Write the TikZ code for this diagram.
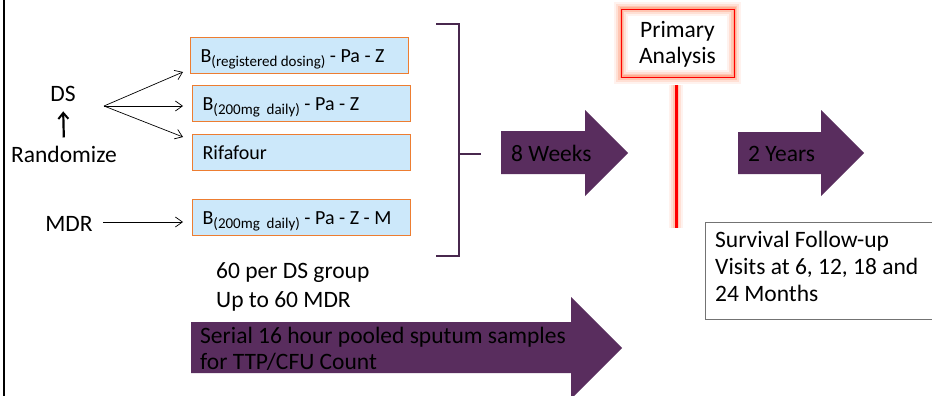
\documentclass[tikz,border=0pt]{standalone}
\usepackage{fontspec}
\setmainfont{Carlito}
\usetikzlibrary{arrows.meta}
\definecolor{plum}{RGB}{89,45,94}
\definecolor{brk}{RGB}{72,40,78}
\definecolor{boxfill}{RGB}{204,232,250}
\definecolor{boxline}{RGB}{237,125,49}
\definecolor{glow}{RGB}{255,150,115}
\newcommand{\sbs}[1]{\raisebox{-4pt}{\fontsize{15}{15}\selectfont #1}}
\begin{document}
\begin{tikzpicture}[x=1pt,y=-1pt,
  font=\fontsize{23.5}{27}\selectfont,
  regbox/.style={draw=boxline, line width=1.2pt, fill=boxfill, anchor=north west,
    font=\fontsize{20}{24}\selectfont,
    minimum width=218pt, minimum height=36pt, text width=198pt, align=flush left,
    text height=13pt, text depth=0pt, inner xsep=10pt, inner ysep=0pt},
  thinarrow/.style={draw=black, line width=0.7pt, -{Straight Barb[length=7pt,width=10pt]}},
  bigarrow/.style={fill=plum},
  lbl/.style={anchor=base west, inner sep=0pt},
  clbl/.style={anchor=base, inner sep=0pt}]
\useasboundingbox (0,0) rectangle (932,396);
\clip (0,0) rectangle (932,396);

% left frame line
\draw[line width=2.5pt] (4,-2) -- (4,400);

% boxes
\node[regbox] (b1) at (190,37) {B\sbs{(registered dosing)} - Pa - Z};
\node[regbox] (b2) at (192,85) {B\sbs{(200mg\ \ daily)} - Pa - Z};
\node[regbox] (b3) at (192,134) {Rifafour};
\node[regbox] (b4) at (192,199) {B\sbs{(200mg\ \ daily)} - Pa - Z - M};

% left labels
\node[clbl] (ds) at (63,102) {DS};
\node[clbl] (rand) at (64,162) {Randomize};
\node[clbl] (mdr) at (69,231) {MDR};
\draw[line width=2.2pt, -{Straight Barb[length=6pt,width=10pt,line width=2pt]}, shorten <=8pt, shorten >=9pt] (rand.north) -- (ds.south);

\coordinate (fan) at (104,106);
\coordinate (t1) at (183,72);
\coordinate (t2) at (183,106);
\coordinate (t3) at (183,137);
\draw[thinarrow] (fan) -- (t1);
\draw[thinarrow] (fan) -- (t2);
\draw[thinarrow] (fan) -- (t3);
\coordinate (mdrs) at (103,222);
\coordinate (mdre) at (183,222);
\draw[thinarrow] (mdrs) -- (mdre);

% counts
\node[lbl] (n1) at (216,278) {60 per DS group};
\node[lbl] (n2) at (216,307) {Up to 60 MDR};

% bracket
\coordinate (bt) at (436,24);
\coordinate (bb) at (436,256);
\coordinate (bm) at (459,154);
\coordinate (bmr) at (481,154);
\draw[brk, line width=2pt] (bt) -| (459,256) -- (bb);
\draw[brk, line width=2pt] (bm) -- (bmr);

% big arrows
\fill[bigarrow] (501,131) -- (585,131) -- (585,110) -- (628,153) -- (585,196) -- (585,174) -- (501,174) -- cycle;
\node[lbl] (w8) at (511,161) {8 Weeks};
\fill[bigarrow] (738,132) -- (821,132) -- (821,110) -- (864,153) -- (821,196) -- (821,174) -- (738,174) -- cycle;
\node[lbl] (y2) at (748,161) {2 Years};
\fill[bigarrow] (191,322) -- (571,322) -- (571,297) -- (622,348) -- (571,399) -- (571,373) -- (191,373) -- cycle;
\node[lbl] (ser1) at (200,343) {Serial 16 hour pooled sputum samples};
\node[lbl] (ser2) at (200,369) {for TTP/CFU Count};

% primary analysis with glow
\foreach \w/\o in {14/0.12, 10/0.2, 6/0.35, 3/0.5} {
  \draw[glow, line width=\w pt, opacity=\o] (621,9) rectangle (734,77);
  \draw[glow, line width=\w pt, opacity=\o] (676,85) -- (676,228);
}
\draw[red, line width=0.9pt] (621,9) rectangle (734,77);
\node[clbl] (pa1) at (677.5,38) {Primary};
\node[clbl] (pa2) at (677.5,64) {Analysis};
\coordinate (pas) at (676,85);
\coordinate (pae) at (676,228);
\draw[red, line width=3pt] (pas) -- (pae);

% survival box
\draw[black!55, line width=1pt] (940,222) -- (705,222) -- (705,319) -- (940,319);
\node[lbl] (sv1) at (715,247) {Survival Follow-up};
\node[lbl] (sv2) at (715,274) {Visits at 6, 12, 18 and};
\node[lbl] (sv3) at (715,301) {24 Months};
\end{tikzpicture}
\end{document}
